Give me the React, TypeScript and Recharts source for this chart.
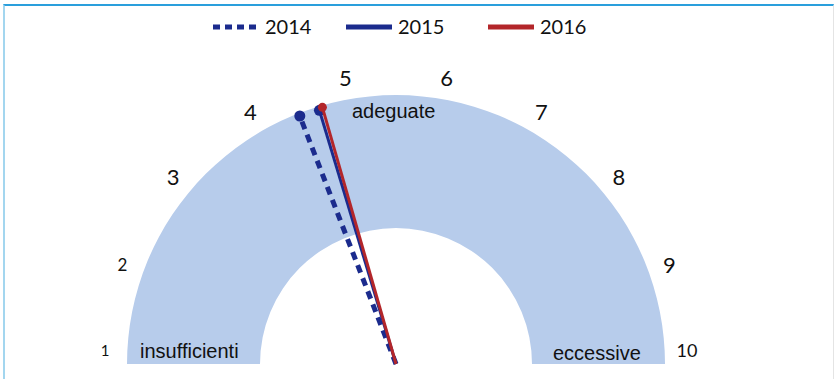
import { Pie, PieChart } from "recharts"

const years = ["2014", "2015", "2016"]
const scores = [4.44, 4.66, 4.7]
const ticks = [1, 2, 3, 4, 5, 6, 7, 8, 9, 10]
const zones = ["insufficienti", "adeguate", "eccessive"]
const scaleMin = 1
const scaleMax = 10

const W = 838
const H = 379
const CX = 396
const CY = 364
const RAD = Math.PI / 180

const BAND = "#b7cceb"
const NAVY = "#1b2b8d"
const RED = "#b3262a"

const needleStyle = [
  { color: NAVY, dash: "8 6", width: 5, dot: 5.5 },
  { color: NAVY, dash: undefined, width: 3, dot: 5.5 },
  { color: RED, dash: undefined, width: 3, dot: 4.5 },
]

const needleLen = [266, 265, 267]

const makeNeedleLabel = (i: number) => (props: any) => {
  if (props.index !== 0) return null
  const { cx, cy, endAngle } = props
  const r = needleLen[i]
  const x = cx + r * Math.cos(-endAngle * RAD)
  const y = cy + r * Math.sin(-endAngle * RAD)
  const s = needleStyle[i]
  return (
    <g>
      <line x1={cx} y1={cy} x2={x} y2={y} stroke={s.color} strokeWidth={s.width} strokeDasharray={s.dash} />
      <circle cx={x} cy={y} r={s.dot} fill={s.color} />
    </g>
  )
}

const renderTick = (props: any) => {
  const { cx, cy, midAngle, index } = props
  const r = 291
  const x = cx + r * Math.cos(-midAngle * RAD)
  // keep the end labels above the baseline of the gauge
  const y = Math.min(cy + r * Math.sin(-midAngle * RAD), cy - 14)
  const t = ticks[index]
  const size = t === 1 ? 15 : t === 2 ? 17 : t === 10 ? 18 : 22
  return (
    <text x={x} y={y} textAnchor="middle" dominantBaseline="central" fontSize={size} fill="#111" fontFamily="Lato, sans-serif">
      {t}
    </text>
  )
}

export default function App() {
  const tickData = ticks.map((t) => ({ name: String(t), value: 1 }))
  return (
    <div style={{ position: "absolute", left: 0, top: 0, width: W, height: H, background: "#fff", overflow: "hidden" }}>
      <div
        style={{
          position: "absolute",
          left: 3,
          top: 4,
          width: 828,
          height: 400,
          borderTop: "2px solid #2a9fdc",
          borderLeft: "2px solid #a3d6ef",
          borderRight: "1px solid #e4e4e4",
        }}
      />
      <PieChart width={W} height={H} margin={{ top: 0, right: 0, bottom: 0, left: 0 }} style={{ position: "absolute", left: 0, top: 0 }}>
        <Pie
          data={[{ name: "band", value: 1 }]}
          dataKey="value"
          cx={CX}
          cy={CY}
          startAngle={180}
          endAngle={0}
          innerRadius={136}
          outerRadius={269}
          fill={BAND}
          stroke="none"
          isAnimationActive={false}
        />
        <Pie
          data={tickData}
          dataKey="value"
          cx={CX}
          cy={CY}
          startAngle={190}
          endAngle={-10}
          innerRadius={0}
          outerRadius={291}
          fill="none"
          stroke="none"
          label={renderTick}
          labelLine={false}
          isAnimationActive={false}
        />
        {years.map((y, i) => (
          <Pie
            key={y}
            data={[
              { name: "a", value: scores[i] - scaleMin },
              { name: "b", value: scaleMax - scores[i] },
            ]}
            dataKey="value"
            cx={CX}
            cy={CY}
            startAngle={180}
            endAngle={0}
            innerRadius={0}
            outerRadius={needleLen[i]}
            fill="none"
            stroke="none"
            label={makeNeedleLabel(i)}
            labelLine={false}
            isAnimationActive={false}
          />
        ))}
      </PieChart>
      <svg width={W} height={H} style={{ position: "absolute", left: 0, top: 0, pointerEvents: "none" }}>
        <g fontFamily="'Liberation Sans', Arial, sans-serif" fontSize={20} fill="#111">
          <text x={140} y={358}>{zones[0]}</text>
          <text x={352} y={118}>{zones[1]}</text>
          <text x={553} y={360}>{zones[2]}</text>
        </g>
        {years.map((y, i) => {
          const x0 = [213, 346, 488][i]
          const s = needleStyle[i]
          return (
            <g key={y}>
              <line x1={x0} y1={27} x2={x0 + 46} y2={27} stroke={s.color} strokeWidth={5} strokeDasharray={i === 0 ? "7 5" : undefined} />
              <text x={x0 + 52} y={34} fontFamily="Lato, sans-serif" fontSize={20} fill="#111">
                {y}
              </text>
            </g>
          )
        })}
      </svg>
    </div>
  )
}
